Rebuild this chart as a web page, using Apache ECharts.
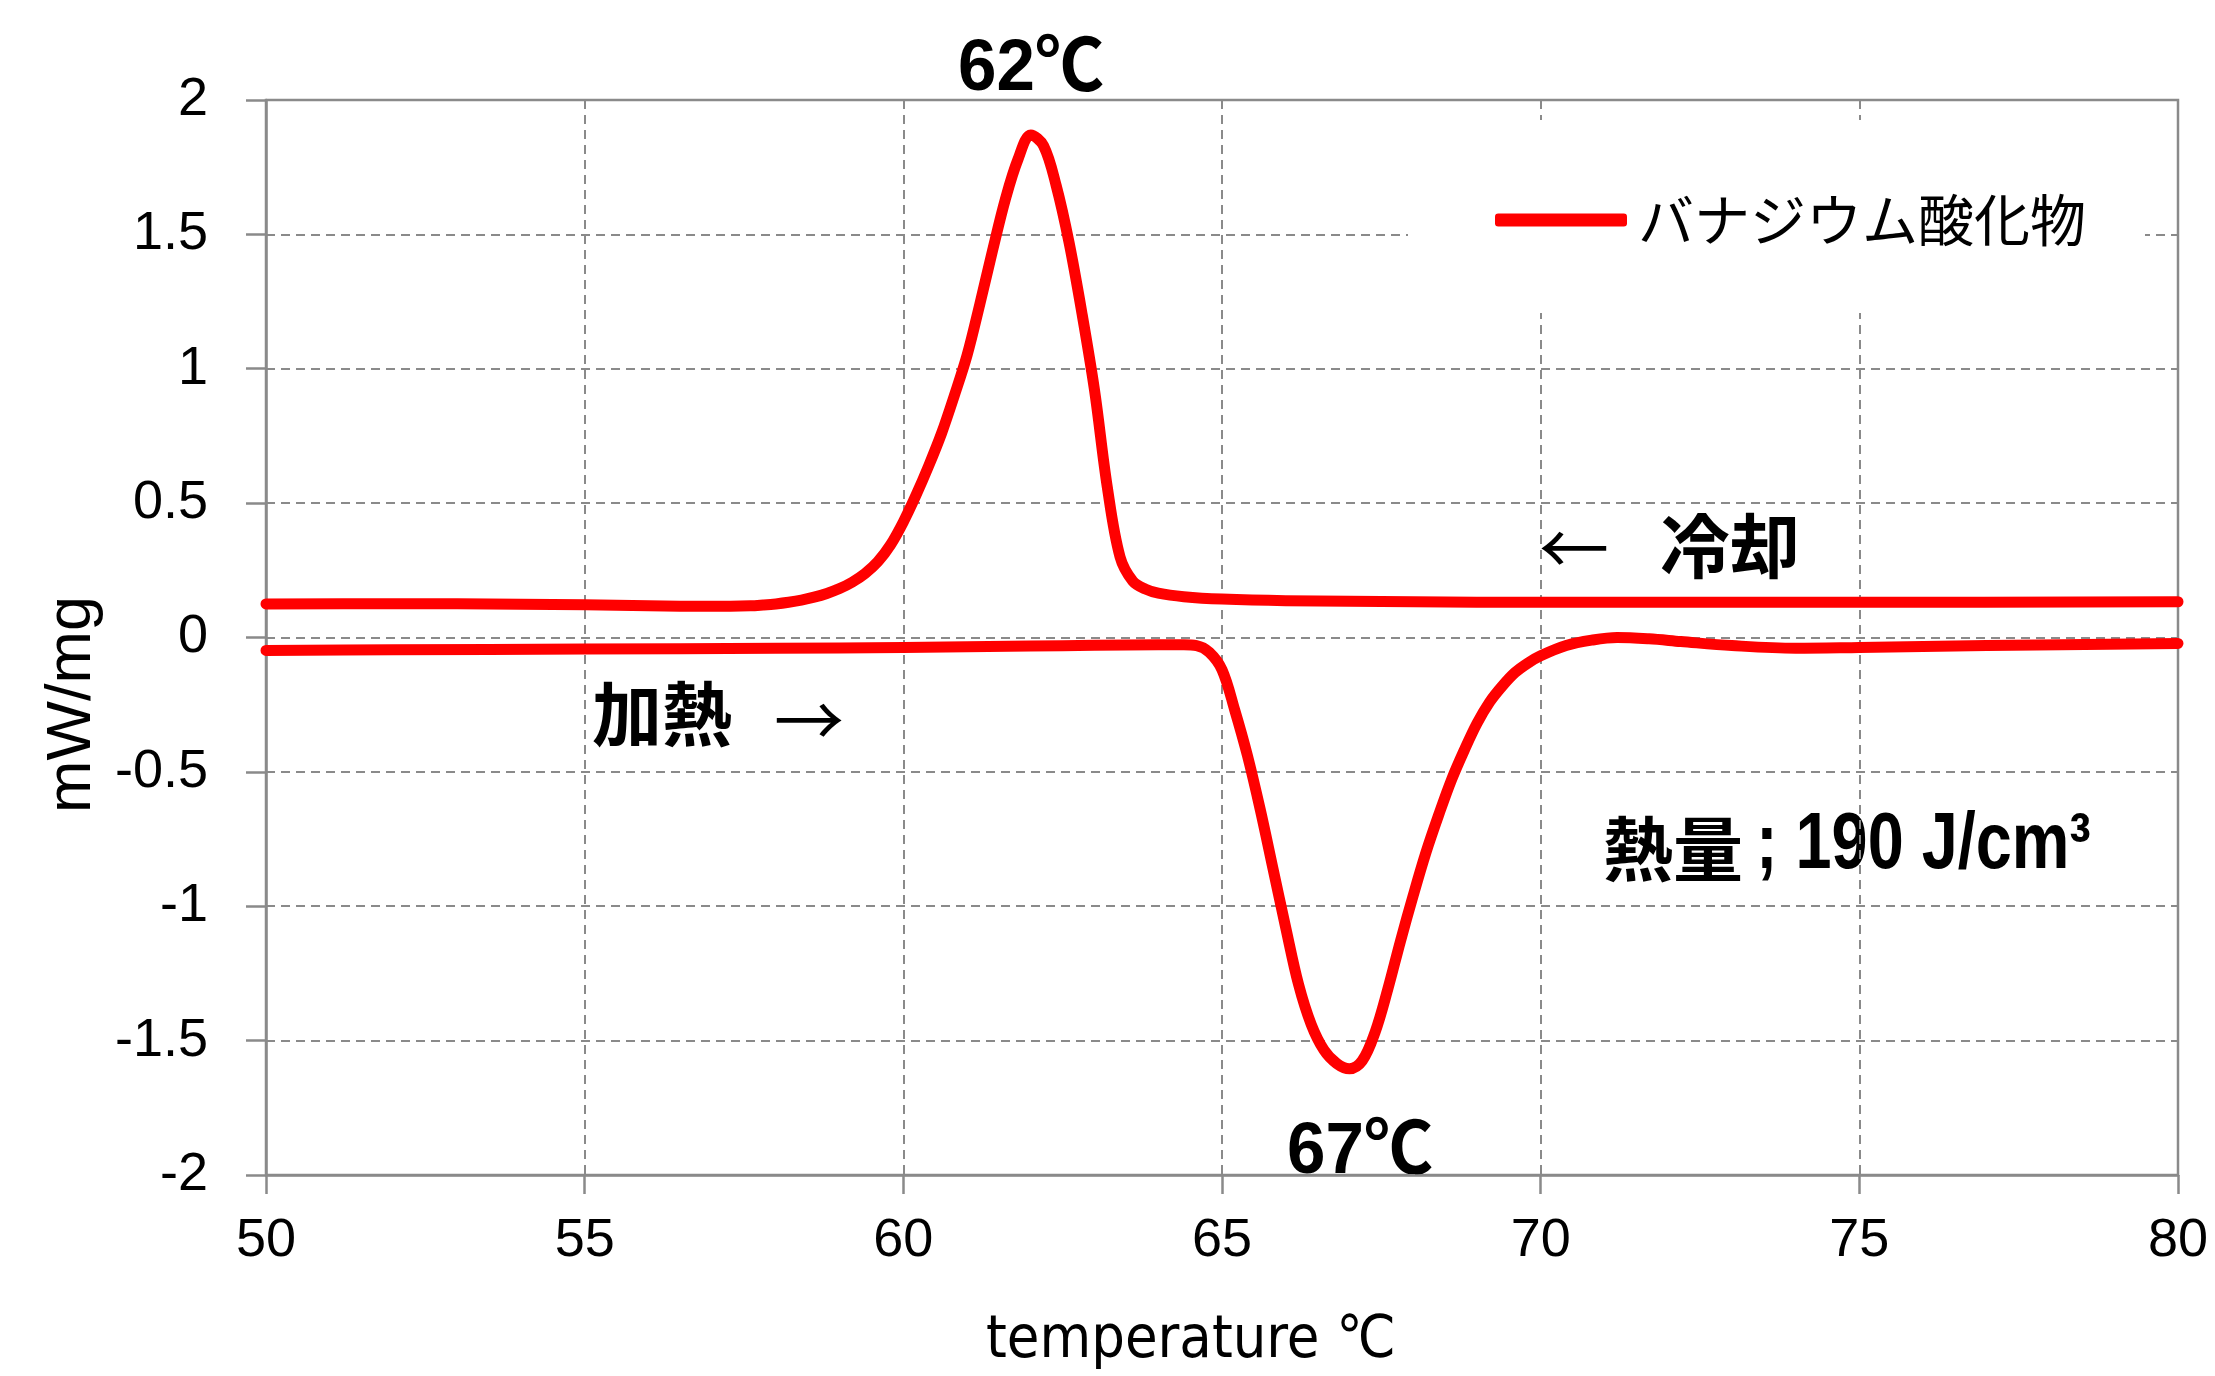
<!DOCTYPE html>
<html>
<head>
<meta charset="utf-8">
<script src="https://cdn.jsdelivr.net/npm/echarts@6/dist/echarts.min.js"></script>
<style>
  html, body { margin: 0; padding: 0; background: #fff; }
  #chart { width: 2215px; height: 1376px; }
</style>
</head>
<body>
<div id="chart"></div>
<script>
// 冷却 (cooling) curve, mW/mg vs temperature
const coolTemp = [50, 52, 54, 55, 56, 57, 57.6, 57.8, 58, 58.2, 58.4,
  58.6, 58.8, 59, 59.2, 59.4, 59.6, 59.8, 60, 60.2, 60.4, 60.6, 60.8, 61, 61.2, 61.4, 61.6, 61.8,
  62, 62.2, 62.4, 62.6, 62.8, 63, 63.2, 63.4, 63.6, 63.8, 64, 64.4, 65, 66, 68, 70, 75, 80]
const coolValue = [0.125, 0.126, 0.124, 0.122, 0.118, 0.116, 0.118, 0.121, 0.125, 0.131, 0.139,
  0.15, 0.164, 0.182, 0.206, 0.238, 0.282, 0.345, 0.43, 0.53, 0.64, 0.76, 0.9, 1.05, 1.24, 1.44, 1.63, 1.78,
  1.87, 1.83, 1.68, 1.47, 1.21, 0.92, 0.56, 0.3, 0.21, 0.18, 0.165, 0.152, 0.143, 0.137, 0.133, 0.131, 0.131, 0.133]

// 加熱 (heating) curve
const heatTemp = [50, 52, 55, 58, 60, 62, 63, 64, 64.4,
  64.6, 64.8, 65, 65.2, 65.4, 65.6, 65.8, 66, 66.2, 66.4, 66.6, 66.8, 67, 67.2, 67.4, 67.6, 67.8,
  68, 68.2, 68.4, 68.6, 68.8, 69, 69.2, 69.4, 69.6, 69.8, 70,
  70.4, 70.8, 71.2, 71.7, 72.2, 73, 74, 75, 77, 80]
const heatValue = [-0.048, -0.046, -0.043, -0.04, -0.037, -0.032, -0.029, -0.027, -0.027,
  -0.03, -0.055, -0.12, -0.27, -0.44, -0.64, -0.86, -1.08, -1.29, -1.44, -1.535, -1.585, -1.605, -1.575, -1.47, -1.31, -1.13,
  -0.96, -0.8, -0.66, -0.53, -0.42, -0.32, -0.24, -0.18, -0.13, -0.095, -0.068,
  -0.03, -0.01, 0.0, -0.005, -0.015, -0.03, -0.04, -0.037, -0.03, -0.022]

const seriesName = 'バナジウム酸化物'
const xRange = [50, 80, 5]
const yRange = [-2, 2, 0.5]

const SANS = "'Liberation Sans', 'Noto Sans CJK JP', sans-serif"
const NAME_FONT = "'DejaVu Sans Condensed', 'DejaVu Sans', 'Noto Sans CJK JP', sans-serif"
const CJK = "'Noto Sans CJK JP', sans-serif"
const gray = '#8a8a8a'

const chart = echarts.init(document.getElementById('chart'))

let lineStyle = {color: '#ff0000', width: 11, cap: 'round', join: 'round'}

// 注記テキスト（太字・幅を詰める）
function note(text, x, y, font, sx) {
  return {
    type: 'text', x: x, y: y, scaleX: sx || 1,
    style: {text: text, font: font, fill: '#000', align: 'center', verticalAlign: 'middle'}
  }
}

chart.setOption({
  animation: false,
  backgroundColor: '#fff',
  grid: {
    left: 266, right: 37, top: 100, bottom: 198,
    show: true, borderColor: gray, borderWidth: 2.5
  },
  legend: {
    data: [seriesName],
    left: 1408, top: 120,
    padding: [72, 59, 65, 87],
    backgroundColor: '#fff',
    icon: 'roundRect',
    itemWidth: 132, itemHeight: 13,
    itemStyle: {color: '#ff0000'},
    textStyle: {fontSize: 56, fontFamily: CJK, color: '#000', padding: [0, 0, 0, 6]}
  },
  xAxis: {
    type: 'value',
    min: xRange[0], max: xRange[1], interval: xRange[2],
    name: 'temperature ℃',
    nameLocation: 'middle',
    nameGap: 137,
    nameTextStyle: {fontSize: 59, fontFamily: NAME_FONT, color: '#000', padding: [0, 62, 0, 0]},
    axisLine: {onZero: false, lineStyle: {color: gray, width: 2.5}},
    axisTick: {show: true, length: 19, lineStyle: {color: gray, width: 2.5}},
    axisLabel: {fontSize: 54, fontFamily: SANS, color: '#000', margin: 39},
    splitLine: {lineStyle: {color: gray, width: 2, type: [9, 6]}}
  },
  yAxis: {
    type: 'value',
    min: yRange[0], max: yRange[1], interval: yRange[2],
    name: 'mW/mg',
    nameLocation: 'middle',
    nameGap: 160,
    nameTextStyle: {fontSize: 63, fontFamily: SANS, color: '#000', padding: [0, 134, 0, 0]},
    axisLine: {show: true, onZero: false, lineStyle: {color: gray, width: 2.5}},
    axisTick: {show: true, length: 20, lineStyle: {color: gray, width: 2.5}},
    axisLabel: {fontSize: 54, fontFamily: SANS, color: '#000', margin: 58},
    splitLine: {lineStyle: {color: gray, width: 2, type: [9, 6]}}
  },
  series: [
    {
      name: seriesName,
      type: 'line',
      smooth: 0.35,
      showSymbol: false,
      data: coolTemp.map((t, i) => [t, coolValue[i]]),
      lineStyle: lineStyle,
      itemStyle: {color: '#ff0000'}
    },
    {
      name: seriesName,
      type: 'line',
      smooth: 0.35,
      showSymbol: false,
      data: heatTemp.map((t, i) => [t, heatValue[i]]),
      lineStyle: lineStyle,
      itemStyle: {color: '#ff0000'}
    }
  ],
  graphic: [
    // ピーク温度
    note('62℃', 1031, 70, 'bold 72px ' + SANS, 0.96),
    note('67℃', 1360, 1153, 'bold 72px ' + SANS, 0.96),
    // 冷却 / 加熱
    note('←', 1574, 548, '70px ' + CJK),
    note('冷却', 1730, 546, 'bold 70px ' + CJK),
    note('加熱', 662, 714, 'bold 70px ' + CJK),
    note('→', 809, 720, '70px ' + CJK),
    // 熱量
    note('熱量', 1673, 849, 'bold 70px ' + CJK),
    {
      type: 'text', x: 1756, y: 846, scaleX: 0.82,
      style: {text: '; 190 J/cm³', font: 'bold 79px ' + SANS, fill: '#000', align: 'left', verticalAlign: 'middle'}
    }
  ]
})
</script>
</body>
</html>
